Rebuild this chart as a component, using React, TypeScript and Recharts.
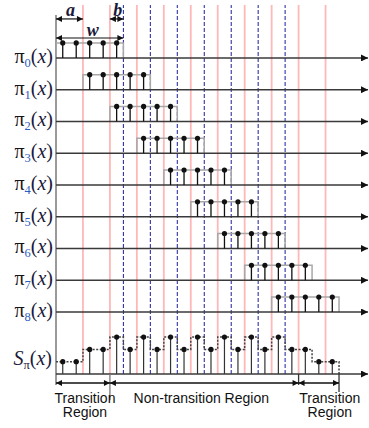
import React from 'react';
import { ComposedChart, XAxis, YAxis, Line, Scatter, ReferenceLine } from 'recharts';

// window positions (in sample units) of the nine pulses pi_0 .. pi_8
const ROW_STARTS = [0, 2, 4, 6, 8, 10, 12, 14, 16];
const SAMPLE_OFFSETS = [0.5, 1.5, 2.5, 3.5, 4.5];
const WINDOW_W = 5;
const PULSE = 1;

// S_pi(x): number of overlapping windows at each sample
const SUMS = [1, 1, 2, 2, 3, 2, 3, 2, 3, 2, 3, 2, 3, 2, 3, 2, 3, 2, 2, 1, 1];

const RED_LINES = [2, 4, 6, 8, 10, 12, 14, 16, 18, 20];
const BLUE_LINES = [5, 7, 9, 11, 13, 15, 17];

const REGIONS = [
  { from: 0, to: 4, lines: ['Transition', 'Region'], dx: 2 },
  { from: 4, to: 18, lines: ['Non-transition Region'], dx: -3 },
  { from: 18, to: 21, lines: ['Transition', 'Region'], dx: 11 },
];

const BRACKETS = [
  { from: 0, to: 2, text: 'a', row: 'top' },
  { from: 4, to: 5, text: 'b', row: 'top' },
  { from: 0, to: 5, text: 'w', row: 'low' },
];

const W = 369;
const H = 428;
const X_MAX = 23.15;
const ROW_GAP = 2.117;
const ROWS_DOMAIN = [-7.733, 20.8];
const SUM_DOMAIN = [-4.39, 30.41];
const LINE_TOP = 30.0;
const ANNO_Y = { top: 28.87, low: 27.32 };
const REGION_Y = -0.73;

const rowBase = (k: number) => (ROW_STARTS.length - 1 - k) * ROW_GAP;

const vbOf = (p: any) => p.viewBox ?? { x: p.x, y: p.y, width: p.width, height: p.height };

const Dot = (p: any) => <circle cx={p.cx} cy={p.cy} r={2.6} fill="#111" />;

const PiLabel = ({ vb, k }: { vb: any; k: number }) => (
  <text x={vb.x - 3} y={vb.y + 5} textAnchor="end" fontFamily="'Liberation Serif', serif" fontSize={20} fill="#1a1a3a">
    <tspan fill="#151515">π</tspan>
    <tspan fill="#2d5cc0" fontSize={12.5} dy={4}>{k}</tspan>
    <tspan dy={-4}>(</tspan>
    <tspan fontStyle="italic">x</tspan>
    <tspan>)</tspan>
  </text>
);

const SLabel = ({ vb }: { vb: any }) => (
  <text x={vb.x - 4} y={vb.y - 9} textAnchor="end" fontFamily="'Liberation Serif', serif" fontSize={20} fill="#1a1a3a">
    <tspan fontStyle="italic">S</tspan>
    <tspan fontSize={12.5} dy={4}>π</tspan>
    <tspan dy={-4}>(</tspan>
    <tspan fontStyle="italic">x</tspan>
    <tspan>)</tspan>
  </text>
);

export default function App() {
  return (
    <div style={{ position: 'absolute', left: 0, top: 0, background: '#fff' }}>
      <ComposedChart width={W} height={H} margin={{ top: 0, right: 1, bottom: 0, left: 56 }}>
        <defs>
          <marker id="ah" viewBox="0 0 10 10" refX="10" refY="5" markerWidth="7" markerHeight="6"
            markerUnits="userSpaceOnUse" orient="auto-start-reverse">
            <path d="M0,0 L10,5 L0,10 z" fill="#111" />
          </marker>
          <marker id="axh" viewBox="0 0 10 10" refX="10" refY="5" markerWidth="8" markerHeight="7"
            markerUnits="userSpaceOnUse" orient="auto">
            <path d="M0,0 L10,5 L0,10 z" fill="#111" />
          </marker>
        </defs>
        <XAxis type="number" dataKey="x" domain={[0, X_MAX]} allowDataOverflow hide />
        <YAxis yAxisId="rows" type="number" domain={ROWS_DOMAIN} allowDataOverflow hide />
        <YAxis yAxisId="sum" type="number" domain={SUM_DOMAIN} allowDataOverflow hide />

        {RED_LINES.map((x) => (
          <ReferenceLine key={'r' + x} yAxisId="sum" segment={[{ x, y: 0 }, { x, y: LINE_TOP }]}
            stroke="#ffb8b8" strokeWidth={1.8} />
        ))}
        {BLUE_LINES.map((x) => (
          <ReferenceLine key={'b' + x} yAxisId="sum" segment={[{ x, y: 0 }, { x, y: LINE_TOP }]}
            stroke="#1c1c9c" strokeWidth={1} strokeDasharray="4 2" />
        ))}

        {/* left vertical axis */}
        <ReferenceLine yAxisId="sum" segment={[{ x: 0, y: -0.89 }, { x: 0, y: 29.2 }]} stroke="#9a9a9a" strokeWidth={2} />

        {/* window boxes */}
        {ROW_STARTS.map((s, k) => (
          <Line key={'box' + k} yAxisId="rows" type="linear" dataKey="y"
            data={[
              { x: s, y: rowBase(k) },
              { x: s, y: rowBase(k) + PULSE },
              { x: s + WINDOW_W, y: rowBase(k) + PULSE },
              { x: s + WINDOW_W, y: rowBase(k) },
            ]}
            stroke="#a8a8a8" strokeWidth={1.5} dot={false} isAnimationActive={false} />
        ))}

        {/* row axes with labels */}
        {ROW_STARTS.map((s, k) => (
          <ReferenceLine key={'ax' + k} yAxisId="rows"
            segment={[{ x: 0, y: rowBase(k) }, { x: X_MAX, y: rowBase(k) }]}
            stroke="#3a3a3a" strokeWidth={1.6} markerEnd="url(#axh)"
            label={(p: any) => <PiLabel vb={vbOf(p)} k={k} />} />
        ))}

        {/* stems of each window */}
        {ROW_STARTS.map((s, k) =>
          SAMPLE_OFFSETS.map((o) => (
            <ReferenceLine key={'st' + k + '-' + o} yAxisId="rows"
              segment={[{ x: s + o, y: rowBase(k) }, { x: s + o, y: rowBase(k) + PULSE }]}
              stroke="#111" strokeWidth={1.3} />
          ))
        )}
        {ROW_STARTS.map((s, k) => (
          <Scatter key={'dots' + k} yAxisId="rows" dataKey="y"
            data={SAMPLE_OFFSETS.map((o) => ({ x: s + o, y: rowBase(k) + PULSE }))}
            shape={Dot} isAnimationActive={false} />
        ))}

        {/* S_pi(x) */}
        <Line yAxisId="sum" type="stepAfter" dataKey="y"
          data={[...SUMS.map((v, j) => ({ x: j, y: v })), { x: SUMS.length, y: 0 }]}
          stroke="#444" strokeWidth={1.5} strokeDasharray="2 1.5" dot={false} isAnimationActive={false} />
        {SUMS.map((v, j) => (
          <ReferenceLine key={'ss' + j} yAxisId="sum" segment={[{ x: j + 0.5, y: 0 }, { x: j + 0.5, y: v }]}
            stroke="#333" strokeWidth={1.2} />
        ))}
        <Scatter yAxisId="sum" dataKey="y" data={SUMS.map((v, j) => ({ x: j + 0.5, y: v }))}
          shape={Dot} isAnimationActive={false} />
        <ReferenceLine yAxisId="sum" segment={[{ x: 0, y: 0 }, { x: X_MAX, y: 0 }]}
          stroke="#3a3a3a" strokeWidth={1.6} markerEnd="url(#axh)"
          label={(p: any) => <SLabel vb={vbOf(p)} />} />

        {/* region boundaries */}
        <ReferenceLine yAxisId="sum" segment={[{ x: 4, y: 0 }, { x: 4, y: -2.11 }]} stroke="#777" strokeWidth={1.3} />
        <ReferenceLine yAxisId="sum" segment={[{ x: 18, y: 0 }, { x: 18, y: -0.89 }]} stroke="#333" strokeWidth={1.3} />
        <ReferenceLine yAxisId="sum" segment={[{ x: 21, y: 0 }, { x: 21, y: -1.46 }]} stroke="#333" strokeWidth={1.3} />

        {REGIONS.map((r) => (
          <ReferenceLine key={'reg' + r.from} yAxisId="sum"
            segment={[{ x: r.from, y: REGION_Y }, { x: r.to, y: REGION_Y }]}
            stroke="#111" strokeWidth={1.3} markerStart="url(#ah)" markerEnd="url(#ah)"
            label={(p: any) => {
              const vb = vbOf(p);
              const cx = vb.x + vb.width / 2 + r.dx;
              return (
                <text textAnchor="middle" fontFamily="'Liberation Sans', sans-serif" fontSize={14} fill="#111">
                  {r.lines.map((t, i) => (
                    <tspan key={t} x={cx} y={vb.y + 20 + i * 14.5}>{t}</tspan>
                  ))}
                </text>
              );
            }} />
        ))}

        {BRACKETS.map((b) => (
          <ReferenceLine key={'br' + b.text} yAxisId="sum"
            segment={[{ x: b.from, y: ANNO_Y[b.row as 'top' | 'low'] }, { x: b.to, y: ANNO_Y[b.row as 'top' | 'low'] }]}
            stroke="#111" strokeWidth={1.2} markerStart="url(#ah)" markerEnd="url(#ah)"
            label={(p: any) => {
              const vb = vbOf(p);
              return (
                <text x={vb.x + vb.width / 2 + (b.text === 'w' ? 3 : 1)} y={vb.y - 2.5} textAnchor="middle"
                  fontFamily="'Liberation Serif', serif" fontStyle="italic" fontWeight="bold" fontSize={18} fill="#1a1a3a">
                  {b.text}
                </text>
              );
            }} />
        ))}
      </ComposedChart>
    </div>
  );
}
